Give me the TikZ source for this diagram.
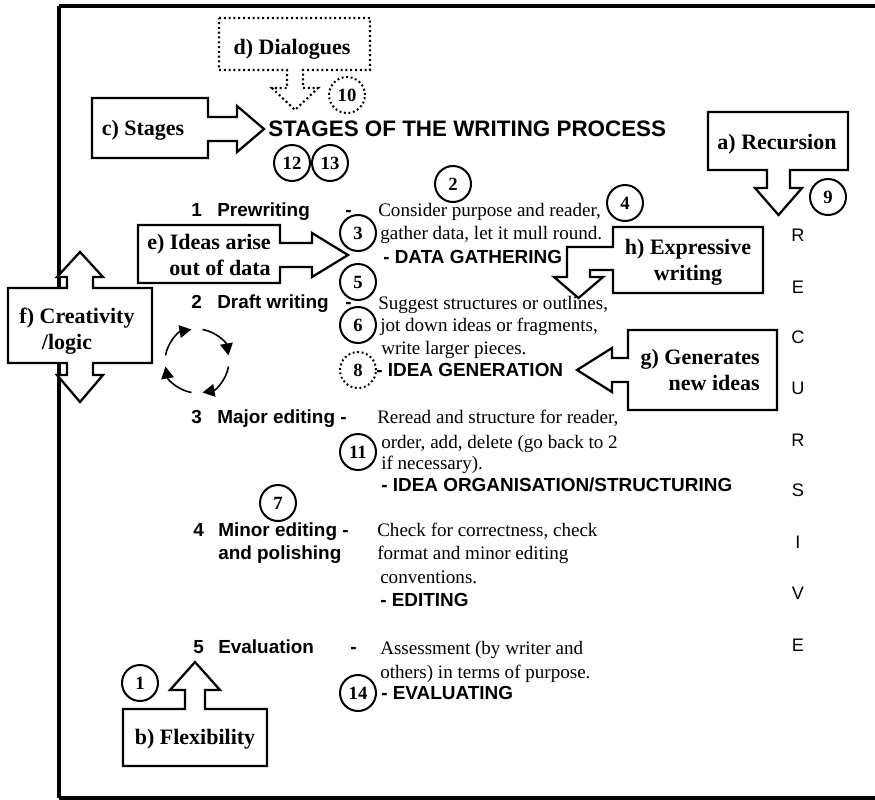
\documentclass[tikz,border=0pt]{standalone}
\usepackage{fontspec}
\setmainfont{Liberation Serif}
\newfontfamily\arialf{Liberation Sans}
\usetikzlibrary{arrows.meta}

\begin{document}
\begin{tikzpicture}[x=0.75pt,y=-0.75pt,
  frameline/.style={line width=2.3pt, line cap=butt},
  callout/.style={draw, line width=1.7pt, fill=white, line join=miter},
  dcallout/.style={draw, line width=1.6pt, dash pattern=on 1.5pt off 2.1pt, fill=white},
  boxlabel/.style={font=\fontsize{16.5}{19.5}\selectfont\bfseries, inner sep=0pt, anchor=base},
  numc/.style={circle, draw, line width=1.5pt, minimum size=27pt, inner sep=0pt, fill=white,
    font=\fontsize{14}{14}\selectfont\bfseries},
  dnumc/.style={numc, dash pattern=on 1.4pt off 2pt},
  stagelbl/.style={font=\arialf\bfseries\fontsize{14.2}{17}\selectfont, inner sep=0pt, anchor=base west},
  desc/.style={font=\fontsize{14.3}{17}\selectfont, inner sep=0pt, anchor=base west},
  vletter/.style={font=\arialf\fontsize{13.6}{16}\selectfont, inner sep=0pt, anchor=base},
  cyc/.style={line width=1.2pt, -{Triangle[length=9pt,width=9.5pt]}},
]
\useasboundingbox (0,0) rectangle (875,800);

% outer frame: top, left and bottom rules only
\coordinate (ftl) at (59,6);
\coordinate (fbl) at (59,798);
\coordinate (ftr) at (875,6);
\coordinate (fbr) at (875,798);
\draw[frameline] (ftl) -- (ftr);
\draw[frameline] (ftl) -- (fbl);
\draw[frameline] (fbl) -- (fbr);

% ---- callouts ----
% c) Stages
\draw[callout] (92,98) -- (208,98) -- (208,117) -- (237,117) -- (237,106) -- (264,129)
  -- (237,152) -- (237,141) -- (208,141) -- (208,158) -- (92,158) -- cycle;
\node[boxlabel] (lblc) at (143,135) {c) Stages};

% d) Dialogues (dotted)
\draw[dcallout] (219,18) -- (370,18) -- (370,70) -- (303,70) -- (303,88) -- (318,88) -- (295,110)
  -- (272,88) -- (287,88) -- (287,70) -- (219,70) -- cycle;
\node[boxlabel] (lbld) at (292,54) {d) Dialogues};

% a) Recursion
\draw[callout] (708,112) -- (848,112) -- (848,170) -- (790,170) -- (790,188) -- (802,188) -- (778.5,215)
  -- (755,188) -- (767,188) -- (767,170) -- (708,170) -- cycle;
\node[boxlabel] (lbla) at (777,149) {a) Recursion};

% h) Expressive writing (elbow arrow)
\draw[callout] (613,227) -- (763,227) -- (763,293) -- (613,293) -- (613,270) -- (590,270) -- (590,277)
  -- (603,277) -- (578.5,298) -- (554,277) -- (567,277) -- (567,247) -- (613,247) -- cycle;
\node[boxlabel] (lblh1) at (688,254) {h) Expressive};
\node[boxlabel] (lblh2) at (688,280) {writing};

% e) Ideas arise out of data
\draw[callout] (138,225) -- (280,225) -- (280,243) -- (312,243) -- (312,233) -- (348,255)
  -- (312,277) -- (312,267) -- (280,267) -- (280,283) -- (138,283) -- cycle;
\node[boxlabel, anchor=base east] (lble1) at (271,249) {e) Ideas arise};
\node[boxlabel, anchor=base east] (lble2) at (271,275) {out of data};

% g) Generates new ideas
\draw[callout] (628,330) -- (777,330) -- (777,410) -- (628,410) -- (628,382) -- (612,382) -- (612,392)
  -- (577,370) -- (612,348) -- (612,358) -- (628,358) -- cycle;
\node[boxlabel, anchor=base east] (lblg1) at (760,364) {g) Generates};
\node[boxlabel, anchor=base east] (lblg2) at (760,390) {new ideas};

% b) Flexibility
\draw[callout] (123,709) -- (185,709) -- (185,690) -- (170,690) -- (195,662) -- (220,690) -- (205,690)
  -- (205,709) -- (267,709) -- (267,766) -- (123,766) -- cycle;
\node[boxlabel] (lblb) at (195,744) {b) Flexibility};

% f) Creativity / logic (double arrow)
\draw[callout] (8,288) -- (67,288) -- (67,277) -- (57,277) -- (80,252) -- (103,277) -- (93,277)
  -- (93,288) -- (152,288) -- (152,363) -- (93,363) -- (93,375) -- (103,375) -- (80,402)
  -- (57,375) -- (67,375) -- (67,363) -- (8,363) -- cycle;
\node[boxlabel] (lblf1) at (77,323) {f) Creativity};
\node[boxlabel] (lblf2) at (67,349) {/logic};

% ---- heading ----
\node[font=\arialf\bfseries\fontsize{16.8}{20}\selectfont, inner sep=0pt, anchor=base west]
  (title) at (268,136) {STAGES OF THE WRITING PROCESS};

% ---- stages ----
\node[stagelbl] (n1) at (191,216) {1};
\node[stagelbl] (s1) at (217,216) {Prewriting};
\node[stagelbl] (d1) at (345,216) {-};
\node[desc] (t1a) at (378,216) {Consider purpose and reader,};
\node[desc] (t1b) at (380,239) {gather data, let it mull round.};
\node[stagelbl] (t1c) at (383,263) {- DATA GATHERING};

\node[stagelbl] (n2) at (191,308) {2};
\node[stagelbl] (s2) at (217,308) {Draft writing};
\node[stagelbl] (d2) at (345,308) {-};
\node[desc] (t2a) at (378,309) {Suggest structures or outlines,};
\node[desc] (t2b) at (380,331) {jot down ideas or fragments,};
\node[desc] (t2c) at (381,354) {write larger pieces.};
\node[stagelbl] (t2d) at (376,376) {- IDEA GENERATION};

\node[stagelbl] (n3) at (191,423) {3};
\node[stagelbl] (s3) at (217,423) {Major editing -};
\node[desc] (t3a) at (377,423) {Reread and structure for reader,};
\node[desc] (t3b) at (381,448) {order, add, delete (go back to 2};
\node[desc] (t3c) at (381,469) {if necessary).};
\node[stagelbl] (t3d) at (381,491) {- IDEA ORGANISATION/STRUCTURING};

\node[stagelbl] (n4) at (193,536) {4};
\node[stagelbl] (s4a) at (218,536) {Minor editing -};
\node[stagelbl] (s4b) at (218,559) {and polishing};
\node[desc] (t4a) at (377,536) {Check for correctness, check};
\node[desc] (t4b) at (377,559) {format and minor editing};
\node[desc] (t4c) at (380,583) {conventions.};
\node[stagelbl] (t4d) at (380,606) {- EDITING};

\node[stagelbl] (n5) at (193,653) {5};
\node[stagelbl] (s5) at (218,653) {Evaluation};
\node[stagelbl] (d5) at (350,653) {-};
\node[desc] (t5a) at (380,654) {Assessment (by writer and};
\node[desc] (t5b) at (380,678) {others) in terms of purpose.};
\node[stagelbl] (t5c) at (381,699) {- EVALUATING};

% ---- vertical word ----
\foreach \ch/\yy [count=\i] in {R/241, E/293, C/343, U/394, R/446, S/496, I/548, V/599, E/651}
  \node[vletter] (rv\i) at (798,\yy) {\ch};

% ---- numbered circles ----
\node[numc] (c1) at (140,683) {1};
\node[numc] (c2) at (453,184) {2};
\node[numc] (c3) at (358,233) {3};
\node[numc] (c4) at (625,203) {4};
\node[numc] (c5) at (358,282) {5};
\node[numc] (c6) at (358,325) {6};
\node[numc] (c7) at (278,503) {7};
\node[dnumc] (c8) at (358,370) {8};
\node[numc] (c9) at (828,197) {9};
\node[dnumc] (c10) at (347,95) {10};
\node[numc] (c11) at (358,452) {11};
\node[numc] (c12) at (292,163) {12};
\node[numc] (c13) at (330,163) {13};
\node[numc] (c14) at (358,693) {14};

% ---- cycle of four arrows ----
\coordinate (cyc) at (197,361);
\foreach \a in {-170,-80,10,100}
  \draw[cyc] (cyc) ++(\a:32) arc[start angle=\a, end angle=\a+70, radius=32];
\end{tikzpicture}
\end{document}
